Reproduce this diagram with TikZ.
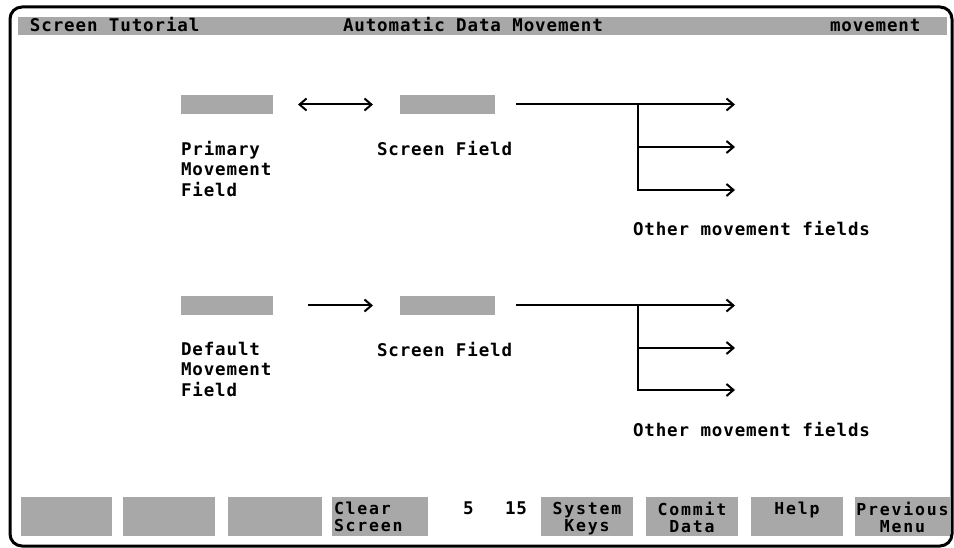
\documentclass[tikz,border=0pt]{standalone}
\usepackage{fontspec}
\usetikzlibrary{arrows.meta}
% terminal-style monospaced faces
\newfontfamily\crt[LetterSpace=5]{DejaVu Sans Mono}
\newfontfamily\crtkey[LetterSpace=11]{DejaVu Sans Mono}
\definecolor{shade}{gray}{0.66}

\tikzset{
  every node/.style={inner sep=0pt, outer sep=0pt},
  field/.style={fill=shade, minimum height=19pt, anchor=north west},
  keybox/.style={fill=shade, minimum height=39pt, anchor=north west},
  bartxt/.style={font=\crt\bfseries\fontsize{17.5}{20}\selectfont, anchor=base west},
  txt/.style={font=\crt\bfseries\fontsize{17.5}{20.5}\selectfont, anchor=north west, align=left},
  keytxt/.style={font=\crtkey\bfseries\fontsize{16.5}{17}\selectfont, align=center, anchor=north},
  wire/.style={line width=2pt},
  flow/.style={wire, -{Straight Barb[length=7pt,width=12pt]}},
  both/.style={wire, {Straight Barb[length=7pt,width=12pt]}-{Straight Barb[length=7pt,width=12pt]}},
}

\begin{document}
\begin{tikzpicture}[x=1pt,y=-1pt]
\useasboundingbox (0,0) rectangle (954,548);

% screen frame
\draw[line width=3pt, rounded corners=12pt] (10,7) rectangle (952,546);

% title bar
\node[fill=shade, minimum width=929pt, minimum height=18pt, anchor=north west] (bar) at (18,17) {};
\node[bartxt] (ttl) at (30,32) {Screen Tutorial};
\node[bartxt] (hdr) at (343,32) {Automatic Data Movement};
\node[bartxt] (tag) at (830,32) {movement};

% primary movement row
\node[field, minimum width=92pt] (p1) at (181,95) {};
\node[field, minimum width=95pt] (s1) at (400,95) {};
\node[txt] (plab) at (181,141) {Primary\\Movement\\Field};
\node[txt] (s1lab) at (377,141) {Screen Field};
\draw[both, shorten <=25pt, shorten >=27pt] (p1) -- (s1);

\coordinate (j1) at (638,104.5);
\coordinate (t1a) at (735,104.5);
\coordinate (t1b) at (735,147);
\coordinate (t1c) at (735,190);
\draw[flow, shorten <=21pt] (s1) -- (t1a);
\draw[flow] (j1) |- (t1c);
\draw[flow] (j1 |- t1b) -- (t1b);
\node[txt] (o1) at (633,221) {Other movement fields};

% default movement row
\node[field, minimum width=92pt] (d1) at (181,296) {};
\node[field, minimum width=95pt] (s2) at (400,296) {};
\node[txt] (dlab) at (181,342) {Default\\Movement\\Field};
\node[txt] (s2lab) at (377,342) {Screen Field};
\draw[flow, shorten <=35pt, shorten >=27pt] (d1) -- (s2);

\coordinate (j2) at (638,305.5);
\coordinate (t2a) at (735,305.5);
\coordinate (t2b) at (735,348);
\coordinate (t2c) at (735,390);
\draw[flow, shorten <=21pt] (s2) -- (t2a);
\draw[flow] (j2) |- (t2c);
\draw[flow] (j2 |- t2b) -- (t2b);
\node[txt] (o2) at (633,422) {Other movement fields};

% function key row
\node[keybox, minimum width=91pt] (k1) at (21,497) {};
\node[keybox, minimum width=92pt] (k2) at (123,497) {};
\node[keybox, minimum width=94pt] (k3) at (228,497) {};
\node[keybox, minimum width=96pt] (k4) at (332,497) {};
\node[keybox, minimum width=92pt] (k5) at (541,497) {};
\node[keybox, minimum width=92pt] (k6) at (646,497) {};
\node[keybox, minimum width=92pt] (k7) at (751,497) {};
\node[keybox, minimum width=95pt] (k8) at (855,497) {};

\node[keytxt, anchor=north west, align=left] (k4t) at (334,502) {Clear\\Screen};
\node[keytxt] (k5t) at ([yshift=-5pt]k5.north) {System\\Keys};
\node[keytxt] (k6t) at ([yshift=-5pt]k6.north) {Commit\\Data};
\node[keytxt] (k7t) at ([yshift=-5pt]k7.north) {Help};
\node[keytxt] (k8t) at ([yshift=-5pt]k8.north) {Previous\\Menu};

\node[txt] (row) at (463,502) {5};
\node[txt] (col) at (505,502) {15};
\end{tikzpicture}
\end{document}
